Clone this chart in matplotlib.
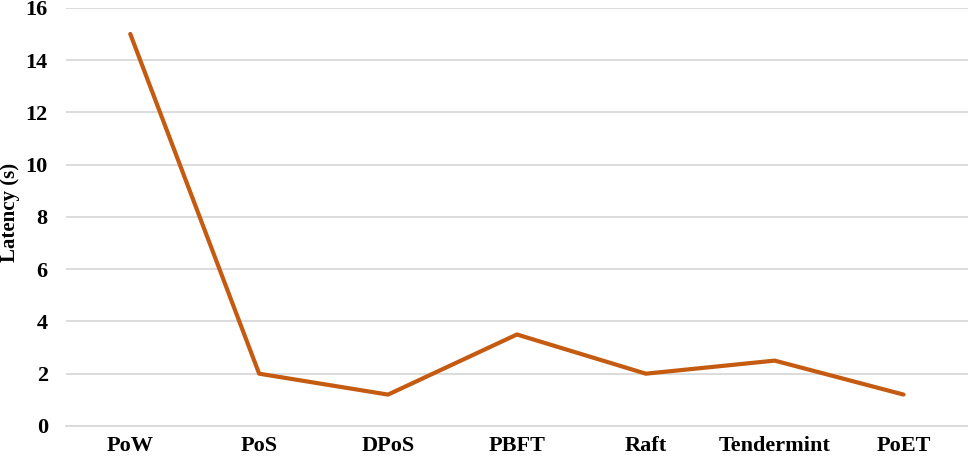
import matplotlib.pyplot as plt

# consensus protocols and their latency in seconds
protocols = ['PoW', 'PoS', 'DPoS', 'PBFT', 'Raft', 'Tendermint', 'PoET']
latency = [15, 2, 1.2, 3.5, 2, 2.5, 1.2]
yticks = [0, 2, 4, 6, 8, 10, 12, 14, 16]

plt.rcParams['font.family'] = ['Liberation Serif', 'DejaVu Serif']
plt.rcParams['font.weight'] = 'bold'

fig = plt.figure(figsize=(9.68, 4.59), dpi=100)
ax = fig.add_axes([0.068, 0.072, 0.932, 0.911])

x = range(len(protocols))
ax.plot(x, latency, color='#C55A11', linewidth=3.0, solid_capstyle='round', zorder=3)

ax.set_xlim(-0.5, len(protocols) - 0.5)
ax.set_ylim(0, 16)
ax.set_yticks(yticks)
ax.set_xticks(list(x))
ax.set_xticklabels(protocols)
ax.grid(axis='y', color='#d9d9d9', linewidth=1.3)
ax.set_axisbelow(True)

for s in ['top', 'right', 'left']:
    ax.spines[s].set_visible(False)
ax.spines['bottom'].set_color('#d9d9d9')
ax.spines['bottom'].set_linewidth(1.3)
ax.tick_params(axis='both', length=0, labelsize=16)
ax.tick_params(axis='y', pad=13)
ax.tick_params(axis='x', pad=7)
for lab in ax.get_xticklabels() + ax.get_yticklabels():
    lab.set_fontweight('bold')

ax.set_ylabel('Latency (s)', fontsize=15, fontweight='bold')
ax.yaxis.set_label_coords(-0.051, 0.51)

fig.savefig('out.png', dpi=100)
